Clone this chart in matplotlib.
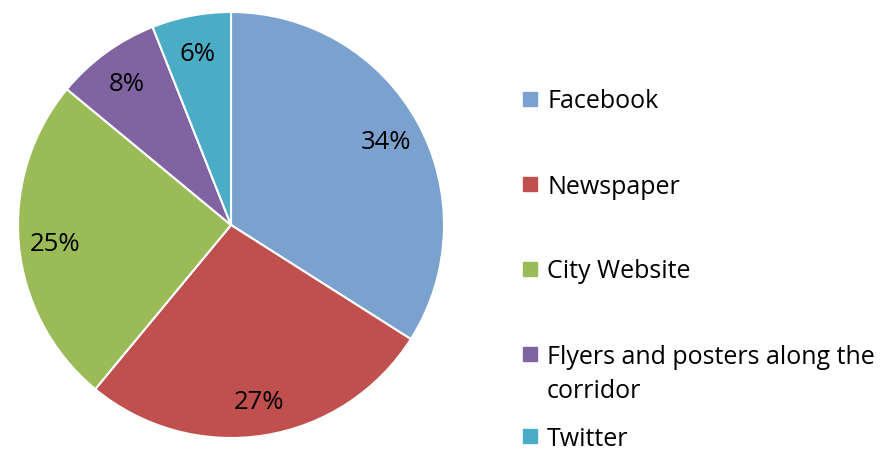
import matplotlib.pyplot as plt

categories = ['Facebook', 'Newspaper', 'City Website',
              'Flyers and posters along the\ncorridor', 'Twitter']
shares = [34, 27, 25, 8, 6]
colors = ['#7BA1CE', '#C0504D', '#9BBB59', '#8064A2', '#4BACC6']

plt.rcParams['font.family'] = ['Open Sans', 'DejaVu Sans']

W, H = 882, 451
fig = plt.figure(figsize=(W / 100, H / 100), dpi=100)

# pie area in pixel coords: left 17, right 445, top 12, bottom 438
ax = fig.add_axes([17 / W, (H - 438) / H, 428 / W, 426 / H])
wedges, _, pct = ax.pie(shares, colors=colors, startangle=90, counterclock=False,
                        autopct='%d%%', pctdistance=0.83,
                        wedgeprops=dict(edgecolor='white', linewidth=1.5),
                        textprops=dict(fontsize=18.5, color='black'))
for t in pct:
    t.set_va('center_baseline')
ax.set_xlim(-1.0, 1.0)
ax.set_ylim(-1.0, 1.0)
ax.set_aspect('equal')

# legend drawn by hand so the wrapped entry lines up like the original
rows_y = [99, 184, 269, 354, 436]
for cat, col, y in zip(categories, colors, rows_y):
    fig.patches.append(plt.Rectangle((523 / W, (H - y - 7) / H), 14 / W, 14 / H,
                                     transform=fig.transFigure, color=col))
    for i, line in enumerate(cat.split('\n')):
        fig.text(547 / W, (H - y - i * 35) / H, line, fontsize=18,
                 va='center_baseline', ha='left')

fig.savefig('out.png', dpi=100)
